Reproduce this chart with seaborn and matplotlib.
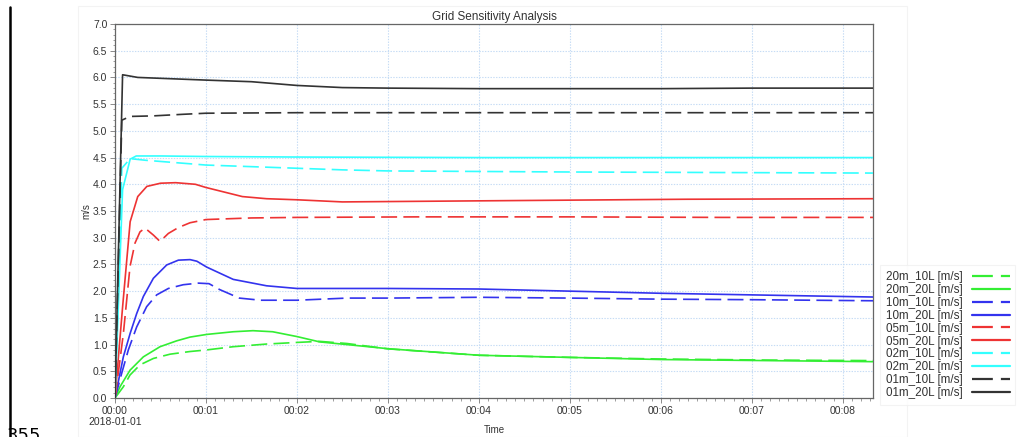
import numpy as np
import pandas as pd
import matplotlib
matplotlib.use("Agg")
import matplotlib.pyplot as plt
import matplotlib.dates as mdates
from matplotlib.lines import Line2D
from matplotlib.patches import Rectangle
import seaborn as sns

# --- series data: elapsed seconds and velocity [m/s] ---
t_20m_10L = [0, 5.5, 9.9, 16.5, 25.3, 36.3, 49.5, 60.5, 78, 100, 120, 135, 153, 180, 240, 300, 360, 430, 500]
v_20m_10L = [0, 0.21, 0.43, 0.62, 0.74, 0.82, 0.87, 0.90, 0.96, 1.01, 1.04, 1.06, 1.02, 0.92, 0.80, 0.76, 0.73, 0.71, 0.70]

t_20m_20L = [0, 3.3, 9.9, 18.7, 29.7, 40.7, 49.5, 60.5, 78, 91, 104, 120, 135, 153, 181, 240, 300, 360, 430, 500]
v_20m_20L = [0, 0.21, 0.52, 0.77, 0.96, 1.07, 1.14, 1.19, 1.24, 1.26, 1.24, 1.15, 1.05, 1.00, 0.92, 0.80, 0.76, 0.72, 0.70, 0.68]

t_10m_10L = [0, 4.4, 8.8, 14.3, 20.9, 27.5, 35.2, 45, 55, 62, 69, 82, 96, 120, 153, 180, 240, 300, 360, 420, 500]
v_10m_10L = [0, 0.46, 0.90, 1.33, 1.71, 1.93, 2.05, 2.12, 2.15, 2.14, 2.03, 1.87, 1.83, 1.83, 1.87, 1.87, 1.885, 1.87, 1.85, 1.84, 1.82]

t_10m_20L = [0, 5.5, 10, 14.3, 18.7, 25.3, 34.1, 41.8, 49.5, 54, 60.5, 78, 100, 120, 180, 240, 300, 360, 420, 500]
v_10m_20L = [0, 0.77, 1.21, 1.58, 1.90, 2.24, 2.49, 2.58, 2.59, 2.56, 2.45, 2.22, 2.10, 2.05, 2.05, 2.04, 2.00, 1.96, 1.93, 1.89]

t_05m_10L = [0, 5.5, 7.7, 9.9, 13.2, 16.5, 19.8, 25.3, 29.7, 35.2, 41.8, 49.5, 60, 90, 120, 200, 300, 400, 500]
v_05m_10L = [0, 1.2, 1.83, 2.46, 2.90, 3.11, 3.18, 3.05, 2.93, 3.08, 3.19, 3.28, 3.34, 3.37, 3.38, 3.39, 3.39, 3.38, 3.38]

t_05m_20L = [0, 5, 10, 15, 21, 30, 40, 53, 60, 84, 100, 120, 150, 240, 377, 500]
v_05m_20L = [0, 1.7, 3.30, 3.77, 3.96, 4.02, 4.03, 4.00, 3.94, 3.77, 3.73, 3.71, 3.67, 3.69, 3.72, 3.73]

t_02m_10L = [0, 4.5, 10, 20, 60, 120, 150, 180, 300, 400, 500]
v_02m_10L = [0, 4.30, 4.48, 4.45, 4.36, 4.30, 4.27, 4.25, 4.23, 4.22, 4.21]

t_02m_20L = [0, 5, 10, 14, 30, 60, 120, 240, 500]
v_02m_20L = [0, 3.9, 4.47, 4.53, 4.53, 4.52, 4.51, 4.50, 4.50]

t_01m_10L = [0, 4.5, 10, 25, 45, 60, 120, 300, 500]
v_01m_10L = [0, 5.20, 5.27, 5.28, 5.31, 5.33, 5.34, 5.34, 5.34]

t_01m_20L = [0, 5, 15, 60, 90, 120, 150, 180, 240, 300, 360, 420, 500]
v_01m_20L = [0, 6.05, 6.00, 5.95, 5.92, 5.85, 5.81, 5.80, 5.79, 5.79, 5.79, 5.80, 5.80]

names = ["20m_10L", "20m_20L", "10m_10L", "10m_20L", "05m_10L",
         "05m_20L", "02m_10L", "02m_20L", "01m_10L", "01m_20L"]
times = [t_20m_10L, t_20m_20L, t_10m_10L, t_10m_20L, t_05m_10L,
         t_05m_20L, t_02m_10L, t_02m_20L, t_01m_10L, t_01m_20L]
values = [v_20m_10L, v_20m_20L, v_10m_10L, v_10m_20L, v_05m_10L,
          v_05m_20L, v_02m_10L, v_02m_20L, v_01m_10L, v_01m_20L]
colors = ["#33ee33", "#33ee33", "#3333ee", "#3333ee", "#ee3333",
          "#ee3333", "#33ffff", "#33ffff", "#333333", "#333333"]
dashed = [True, False] * 5

start = pd.Timestamp("2018-01-01 00:00:00")
end = start + pd.Timedelta(seconds=500)

sns.set_theme(style="white")
plt.rcParams["font.family"] = ["Liberation Sans", "DejaVu Sans"]
plt.rcParams["lines.scale_dashes"] = False

fig = plt.figure(figsize=(10.30, 4.37), dpi=100)
ax = fig.add_axes([115 / 1030, 1 - 398 / 437, (873 - 115) / 1030, (398 - 24) / 437])

plot_dash = (0, (11.5, 4.5))
legend_dash = (0, (15, 5.8))
handles = []
for name, t, v, c, d in zip(names, times, values, colors, dashed):
    df = pd.DataFrame({"Time": start + pd.to_timedelta(t, unit="s"), "value": v})
    sns.lineplot(data=df, x="Time", y="value", ax=ax, color=c, linewidth=1.2,
                 linestyle=plot_dash if d else "-", legend=False, zorder=3)
    handles.append(Line2D([], [], color=c, linewidth=1.6,
                          linestyle=legend_dash if d else "-",
                          label=f"{name} [m/s]"))

ax.set_xlim(start, end)
ax.set_ylim(0, 7.0)

# axis ticks
ax.yaxis.set_major_locator(plt.MultipleLocator(0.5))
ax.yaxis.set_minor_locator(plt.MultipleLocator(0.1))
ax.yaxis.set_major_formatter(plt.FuncFormatter(lambda v, p: f"{v:.1f}"))
ax.xaxis.set_major_locator(mdates.MinuteLocator())
ax.xaxis.set_minor_locator(mdates.SecondLocator(bysecond=range(0, 60, 6)))


def time_label(x, pos):
    d = mdates.num2date(x)
    s = d.strftime("%H:%M")
    if d.minute == 0 and d.hour == 0:
        s += "\n" + d.strftime("%Y-%m-%d")
    return s


ax.xaxis.set_major_formatter(plt.FuncFormatter(time_label))

ax.tick_params(axis="both", which="major", direction="out", length=3.5, width=0.6,
               color="#777777", labelsize=7.5, labelcolor="#333333", pad=2,
               bottom=True, left=True)
ax.tick_params(axis="both", which="minor", direction="out", length=1.8, width=0.5,
               color="#777777", bottom=True, left=True)

ax.grid(True, which="major", color="#c6dcf5", linestyle=(0, (1, 1)), linewidth=0.8, zorder=0)
for s in ax.spines.values():
    s.set_color("#666666")
    s.set_linewidth(0.9)

ax.set_title("Grid Sensitivity Analysis", fontsize=8.5, color="#333333", pad=3)
ax.set_xlabel("Time", fontsize=7, color="#333333")
ax.xaxis.set_label_coords(0.5, (398 - 430) / 374)
ax.xaxis.label.set_verticalalignment("center")
ax.set_ylabel("m/s", fontsize=7, color="#333333")
ax.yaxis.set_label_coords((86.7 - 115) / 758, 0.5)
ax.yaxis.label.set_verticalalignment("center")

leg = fig.legend(handles=handles, loc="upper left",
                 bbox_to_anchor=(880 / 1030, 1 - 265 / 437), borderaxespad=0,
                 fontsize=8.4, markerfirst=False, handlelength=3.26,
                 labelspacing=0.08, handletextpad=0.77, borderpad=0.5,
                 frameon=True, fancybox=False, edgecolor="#f0f0f0")
leg.get_frame().set_linewidth(0.8)
for txt in leg.get_texts():
    txt.set_color("#333333")

# page decorations around the chart
fig.add_artist(Rectangle((78 / 1030, 0), (907 - 78) / 1030, 1 - 6 / 437,
                         transform=fig.transFigure, fill=False,
                         edgecolor="#f3f3f3", linewidth=0.8))
fig.add_artist(Line2D([10 / 1030, 10 / 1030], [0, 1 - 7 / 437],
                      transform=fig.transFigure, color="black", linewidth=1.8))
fig.text(7 / 1030, -4 / 437, "355", fontsize=13, color="black",
         va="baseline", ha="left", family=["DejaVu Sans"])

fig.savefig("out.png", dpi=100)
